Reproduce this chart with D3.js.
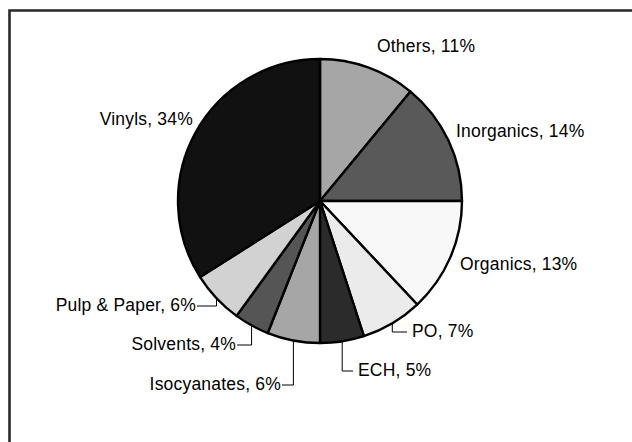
<!DOCTYPE html>
<html>
<head>
<meta charset="utf-8">
<script src="https://cdn.jsdelivr.net/npm/d3@7"></script>
<style>
  html, body { margin: 0; padding: 0; background: #fff; }
  svg { display: block; }
  text { font-family: "Liberation Sans", Arial, sans-serif; font-size: 17.5px; fill: #000; letter-spacing: 0.2px; }
</style>
</head>
<body>
<svg id="chart"></svg>
<script>
'use strict';

// chemical end uses, share of total (%)
const categories = ['Others', 'Inorganics', 'Organics', 'PO', 'ECH', 'Isocyanates', 'Solvents', 'Pulp & Paper', 'Vinyls'];
const shares = [11, 14, 13, 7, 5, 6, 4, 6, 34];
const fills = ['#a6a6a6', '#595959', '#f8f8f8', '#ebebeb', '#2b2b2b', '#a6a6a6', '#555555', '#d2d2d2', '#111111'];

// where each label sits (x, baseline y, anchor, leader line?)
const labelPos = [
  [377, 52, 'start', false],
  [456, 137, 'start', false],
  [460, 270, 'start', false],
  [412, 337, 'start', true],
  [358, 376, 'start', true],
  [281, 390, 'end', true],
  [236, 350, 'end', true],
  [196, 311, 'end', true],
  [193, 125, 'end', false]
];

const width = 632, height = 442;
const cx = 320, cy = 201, r = 142;

const svg = d3.select('#chart')
   .attr('width', width)
   .attr('height', height);

// frame (only top and left edges are in view)
svg.append('path')
   .attr('d', `M9.5,${height} V10.5 H${width}`)
   .attr('fill', 'none')
   .attr('stroke', '#2a2a2a')
   .attr('stroke-width', 2.6);

const pie = d3.pie().sort(null).value(d => d);
const arcs = pie(shares);

const arc = d3.arc().innerRadius(0).outerRadius(r);
const edge = d3.arc().innerRadius(r).outerRadius(r);

const g = svg.append('g')
   .attr('transform', `translate(${cx}, ${cy})`);

g.selectAll('path.slice')
   .data(arcs)
  .enter().append('path')
   .attr('class', 'slice')
   .attr('d', arc)
   .attr('fill', (d, i) => fills[i])
   .attr('stroke', '#000')
   .attr('stroke-width', 2.4)
   .attr('stroke-linejoin', 'round');

// leader lines: from the slice edge down/up to the label's mid height, then across
arcs.forEach((d, i) => {
  const [lx, ly, anchor, leader] = labelPos[i];
  if (!leader) return;
  const [ex, ey] = edge.centroid(d);
  const midY = ly - 5 - cy;
  const endX = (anchor === 'start' ? lx - 5 : lx + 1) - cx;
  g.append('polyline')
     .attr('points', [[ex, ey], [ex, midY], [endX, midY]].map(p => p.join(',')).join(' '))
     .attr('fill', 'none')
     .attr('stroke', '#000')
     .attr('stroke-width', 1);
});

svg.selectAll('text.label')
   .data(arcs)
  .enter().append('text')
   .attr('class', 'label')
   .attr('x', (d, i) => labelPos[i][0])
   .attr('y', (d, i) => labelPos[i][1])
   .attr('text-anchor', (d, i) => labelPos[i][2])
   .text((d, i) => `${categories[i]}, ${shares[i]}%`);
</script>
</body>
</html>
